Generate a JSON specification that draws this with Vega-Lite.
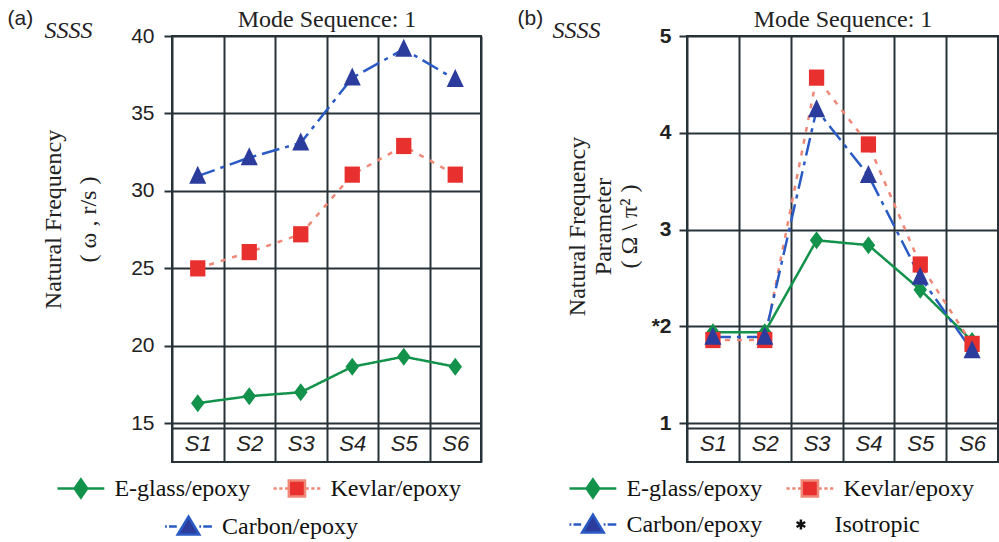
{
  "$schema": "https://vega.github.io/schema/vega-lite/v6.json",
  "padding": {"left": 6, "top": 6, "right": 2, "bottom": 4},
  "background": "white",
  "config": {"view": {"stroke": "#263238", "strokeWidth": 2}},
  "datasets": {
    "a": [
      {"seq": "S1", "series": "E-glass/epoxy", "value": 16.3},
      {"seq": "S2", "series": "E-glass/epoxy", "value": 16.75},
      {"seq": "S3", "series": "E-glass/epoxy", "value": 17.0},
      {"seq": "S4", "series": "E-glass/epoxy", "value": 18.65},
      {"seq": "S5", "series": "E-glass/epoxy", "value": 19.3},
      {"seq": "S6", "series": "E-glass/epoxy", "value": 18.65},
      {"seq": "S1", "series": "Kevlar/epoxy", "value": 25.0},
      {"seq": "S2", "series": "Kevlar/epoxy", "value": 26.05},
      {"seq": "S3", "series": "Kevlar/epoxy", "value": 27.2},
      {"seq": "S4", "series": "Kevlar/epoxy", "value": 31.05},
      {"seq": "S5", "series": "Kevlar/epoxy", "value": 32.9},
      {"seq": "S6", "series": "Kevlar/epoxy", "value": 31.05},
      {"seq": "S1", "series": "Carbon/epoxy", "value": 30.95},
      {"seq": "S2", "series": "Carbon/epoxy", "value": 32.15},
      {"seq": "S3", "series": "Carbon/epoxy", "value": 33.1},
      {"seq": "S4", "series": "Carbon/epoxy", "value": 37.3},
      {"seq": "S5", "series": "Carbon/epoxy", "value": 39.15},
      {"seq": "S6", "series": "Carbon/epoxy", "value": 37.2}
    ],
    "b": [
      {"seq": "S1", "series": "E-glass/epoxy", "value": 1.94},
      {"seq": "S2", "series": "E-glass/epoxy", "value": 1.94},
      {"seq": "S3", "series": "E-glass/epoxy", "value": 2.89},
      {"seq": "S4", "series": "E-glass/epoxy", "value": 2.84},
      {"seq": "S5", "series": "E-glass/epoxy", "value": 2.38},
      {"seq": "S6", "series": "E-glass/epoxy", "value": 1.85},
      {"seq": "S1", "series": "Kevlar/epoxy", "value": 1.86},
      {"seq": "S2", "series": "Kevlar/epoxy", "value": 1.86},
      {"seq": "S3", "series": "Kevlar/epoxy", "value": 4.57},
      {"seq": "S4", "series": "Kevlar/epoxy", "value": 3.88},
      {"seq": "S5", "series": "Kevlar/epoxy", "value": 2.64},
      {"seq": "S6", "series": "Kevlar/epoxy", "value": 1.82},
      {"seq": "S1", "series": "Carbon/epoxy", "value": 1.89},
      {"seq": "S2", "series": "Carbon/epoxy", "value": 1.89},
      {"seq": "S3", "series": "Carbon/epoxy", "value": 4.24},
      {"seq": "S4", "series": "Carbon/epoxy", "value": 3.56},
      {"seq": "S5", "series": "Carbon/epoxy", "value": 2.51},
      {"seq": "S6", "series": "Carbon/epoxy", "value": 1.75}
    ]
  },
  "hconcat": [
    {
      "width": 309,
      "height": 426,
      "data": {"name": "a"},
      "resolve": {"axis": {"x": "independent", "y": "independent"}, "scale": {"fill": "independent", "shape": "independent", "stroke": "independent"}},
      "layer": [
        {
          "mark": {"type": "line", "strokeWidth": 2.5},
          "encoding": {
            "x": {"field": "seq", "type": "nominal", "scale": {"type": "band", "domain": ["S1", "S2", "S3", "S4", "S5", "S6"], "paddingInner": 0, "paddingOuter": 0},
              "axis": {"orient": "bottom", "tickBand": "extent", "grid": true, "gridColor": "#263238", "gridWidth": 2, "gridOpacity": 1, "domain": false, "ticks": false, "tickSize": 0, "labelPadding": -19, "labelBaseline": "middle", "labelAngle": 0, "labelFont": "Liberation Sans", "labelFontStyle": "italic", "labelFontSize": 22, "labelColor": "#222", "title": "Mode Sequence: 1", "titleFont": "Liberation Serif", "titleFontSize": 24, "titleFontWeight": "normal", "titleColor": "#222", "titleX": 154.5, "titleY": -436, "titleAlign": "center", "titleBaseline": "alphabetic", "titleLimit": 1000}},
            "y": {"field": "value", "type": "quantitative", "scale": {"domain": [12.5, 40], "nice": false, "zero": false},
              "axis": {"orient": "left", "values": [15, 20, 25, 30, 35, 40], "grid": true, "gridColor": "#263238", "gridWidth": 2, "gridOpacity": 1, "domain": false, "ticks": true, "tickSize": 8, "tickColor": "#263238", "tickWidth": 2, "labelFont": "Liberation Sans", "labelFontSize": 21, "labelColor": "#222", "labelPadding": 10, "title": ["Natural Frequency", "( ω , r/s )"], "titleFont": "Liberation Serif", "titleFontSize": 24, "titleFontWeight": "normal", "titleColor": "#222", "titleLineHeight": 35, "titlePadding": 30, "titleY": 183, "titleLimit": 1000}},
            "color": {"field": "series", "type": "nominal", "scale": {"domain": ["E-glass/epoxy", "Kevlar/epoxy", "Carbon/epoxy"], "range": ["#12924a", "#f08878", "#2a5bc4"]}, "legend": null},
            "strokeDash": {"field": "series", "type": "nominal", "scale": {"domain": ["E-glass/epoxy", "Kevlar/epoxy", "Carbon/epoxy"], "range": [[1, 0], [5, 7], [18, 6, 4, 6]]}, "legend": null}
          }
        },
        {
          "mark": {"type": "point", "filled": true, "size": 324, "opacity": 1, "strokeWidth": 0},
          "encoding": {
            "x": {"field": "seq", "type": "nominal",
              "axis": {"orient": "top", "grid": false, "labels": false, "ticks": false, "domain": false, "title": "(a)", "titleFont": "Liberation Sans", "titleFontSize": 21, "titleFontWeight": "normal", "titleColor": "#222", "titleX": -165, "titleY": -12, "titleAlign": "left", "titleBaseline": "alphabetic", "titleAngle": 0}},
            "y": {"field": "value", "type": "quantitative",
              "axis": {"orient": "right", "values": [14.7], "grid": true, "gridColor": "#263238", "gridWidth": 2, "gridOpacity": 1, "labels": false, "ticks": false, "domain": false, "title": "SSSS", "titleFont": "Liberation Serif", "titleFontStyle": "italic", "titleFontSize": 24, "titleFontWeight": "normal", "titleColor": "#222", "titleX": -437, "titleY": 1, "titleAlign": "left", "titleBaseline": "alphabetic", "titleAngle": 0}},
            "fill": {"field": "series", "type": "nominal", "scale": {"domain": ["E-glass/epoxy", "Kevlar/epoxy", "Carbon/epoxy"], "range": ["#12924a", "#e8312f", "#2b3c9c"]}, "legend": null},
            "shape": {"field": "series", "type": "nominal", "scale": {"domain": ["E-glass/epoxy", "Kevlar/epoxy", "Carbon/epoxy"], "range": ["M0,-1L0.75,0L0,1L-0.75,0Z", "M-0.85,-0.9H0.85V0.9H-0.85Z", "M0,-1.15L0.95,0.85H-0.95Z"]}, "legend": null}
          }
        },
        {
          "transform": [{"filter": "datum.series !== 'Carbon/epoxy'"}],
          "mark": {"type": "point", "filled": true, "size": 1296, "opacity": 0, "strokeWidth": 2.5},
          "encoding": {
            "x": {"field": "seq", "type": "nominal", "axis": null},
            "y": {"field": "value", "type": "quantitative", "axis": null},
            "fill": {"field": "series", "type": "nominal", "scale": {"domain": ["E-glass/epoxy", "Kevlar/epoxy"], "range": ["#12924a", "#e8312f"]},
              "legend": {"title": null, "orient": "none", "legendX": -110.6, "legendY": 433, "direction": "horizontal", "columns": 2, "gridAlign": "none", "columnPadding": 18, "rowPadding": 2, "padding": 0, "symbolSize": 1296, "symbolStrokeWidth": 2.5, "symbolOpacity": 1, "symbolFillColor": "#000000", "symbolStrokeColor": "#000000", "labelOffset": 14, "labelFont": "Liberation Serif", "labelFontSize": 24, "labelColor": "#111", "labelLimit": 300}},
            "stroke": {"field": "series", "type": "nominal", "scale": {"domain": ["E-glass/epoxy", "Kevlar/epoxy"], "range": ["#12924a", "#f08878"]},
              "legend": {"title": null, "orient": "none", "legendX": -110.6, "legendY": 433, "direction": "horizontal", "columns": 2, "gridAlign": "none", "columnPadding": 18, "rowPadding": 2, "padding": 0, "symbolSize": 1296, "symbolStrokeWidth": 2.5, "symbolOpacity": 1, "symbolFillColor": "#000000", "symbolStrokeColor": "#000000", "labelOffset": 14, "labelFont": "Liberation Serif", "labelFontSize": 24, "labelColor": "#111", "labelLimit": 300}},
            "shape": {"field": "series", "type": "nominal", "scale": {"domain": ["E-glass/epoxy", "Kevlar/epoxy"], "range": ["M-1.3,0H1.3M0,-0.5L0.35,0L0,0.5L-0.35,0Z", "M-1.3,0H-1.12M-0.98,0H-0.8M-0.66,0H-0.48M0.48,0H0.66M0.8,0H0.98M1.12,0H1.3M-0.45,-0.45H0.45V0.45H-0.45Z"]},
              "legend": {"title": null, "orient": "none", "legendX": -110.6, "legendY": 433, "direction": "horizontal", "columns": 2, "gridAlign": "none", "columnPadding": 18, "rowPadding": 2, "padding": 0, "symbolSize": 1296, "symbolStrokeWidth": 2.5, "symbolOpacity": 1, "symbolFillColor": "#000000", "symbolStrokeColor": "#000000", "labelOffset": 14, "labelFont": "Liberation Serif", "labelFontSize": 24, "labelColor": "#111", "labelLimit": 300}}
          }
        },
        {
          "transform": [{"filter": "datum.series === 'Carbon/epoxy'"}],
          "mark": {"type": "point", "filled": true, "size": 1296, "opacity": 0, "strokeWidth": 2.5},
          "encoding": {
            "x": {"field": "seq", "type": "nominal", "axis": null},
            "y": {"field": "value", "type": "quantitative", "axis": null},
            "fill": {"field": "series", "type": "nominal", "scale": {"domain": ["Carbon/epoxy"], "range": ["#2b3c9c"]},
              "legend": {"title": null, "orient": "none", "legendX": -3, "legendY": 471, "padding": 0, "symbolSize": 1296, "symbolStrokeWidth": 2.5, "symbolOpacity": 1, "symbolFillColor": "#000000", "symbolStrokeColor": "#000000", "labelOffset": 14, "labelFont": "Liberation Serif", "labelFontSize": 24, "labelColor": "#111", "labelLimit": 300}},
            "stroke": {"field": "series", "type": "nominal", "scale": {"domain": ["Carbon/epoxy"], "range": ["#2a5bc4"]},
              "legend": {"title": null, "orient": "none", "legendX": -3, "legendY": 471, "padding": 0, "symbolSize": 1296, "symbolStrokeWidth": 2.5, "symbolOpacity": 1, "symbolFillColor": "#000000", "symbolStrokeColor": "#000000", "labelOffset": 14, "labelFont": "Liberation Serif", "labelFontSize": 24, "labelColor": "#111", "labelLimit": 300}},
            "shape": {"field": "series", "type": "nominal", "scale": {"domain": ["Carbon/epoxy"], "range": ["M-1.3,0H-1.2M-1.08,0H-0.65M0.6,0H0.7M0.82,0H1.3M0,-0.55L0.6,0.45H-0.6Z"]},
              "legend": {"title": null, "orient": "none", "legendX": -3, "legendY": 471, "padding": 0, "symbolSize": 1296, "symbolStrokeWidth": 2.5, "symbolOpacity": 1, "symbolFillColor": "#000000", "symbolStrokeColor": "#000000", "labelOffset": 14, "labelFont": "Liberation Serif", "labelFontSize": 24, "labelColor": "#111", "labelLimit": 300}}
          }
        }
      ]
    },
    {
      "width": 311,
      "height": 426,
      "data": {"name": "b"},
      "resolve": {"axis": {"x": "independent", "y": "independent"}, "scale": {"fill": "independent", "shape": "independent", "stroke": "independent"}},
      "layer": [
        {
          "mark": {"type": "line", "strokeWidth": 2.5},
          "encoding": {
            "x": {"field": "seq", "type": "nominal", "scale": {"type": "band", "domain": ["S1", "S2", "S3", "S4", "S5", "S6"], "paddingInner": 0, "paddingOuter": 0},
              "axis": {"orient": "bottom", "tickBand": "extent", "grid": true, "gridColor": "#263238", "gridWidth": 2, "gridOpacity": 1, "domain": false, "ticks": false, "tickSize": 0, "labelPadding": -19, "labelBaseline": "middle", "labelAngle": 0, "labelFont": "Liberation Sans", "labelFontStyle": "italic", "labelFontSize": 22, "labelColor": "#222", "title": "Mode Sequence: 1", "titleFont": "Liberation Serif", "titleFontSize": 24, "titleFontWeight": "normal", "titleColor": "#222", "titleX": 155.5, "titleY": -436, "titleAlign": "center", "titleBaseline": "alphabetic", "titleLimit": 1000}},
            "y": {"field": "value", "type": "quantitative", "scale": {"domain": [0.6, 5], "nice": false, "zero": false},
              "axis": {"orient": "left", "values": [1, 2, 3, 4, 5], "labelExpr": "datum.value === 2 ? '*2' : datum.label", "grid": true, "gridColor": "#263238", "gridWidth": 2, "gridOpacity": 1, "domain": false, "ticks": true, "tickSize": 8, "tickColor": "#263238", "tickWidth": 2, "labelFont": "Liberation Sans", "labelFontSize": 21, "labelFontWeight": "bold", "labelColor": "#222", "labelPadding": 8, "title": ["Natural Frequency", "Parameter", "( Ω \\ π² )"], "titleFont": "Liberation Serif", "titleFontSize": 24, "titleFontWeight": "normal", "titleColor": "#222", "titleLineHeight": 26, "titlePadding": 10, "titleY": 190, "titleLimit": 1000}},
            "color": {"field": "series", "type": "nominal", "scale": {"domain": ["E-glass/epoxy", "Kevlar/epoxy", "Carbon/epoxy"], "range": ["#12924a", "#f08878", "#2a5bc4"]}, "legend": null},
            "strokeDash": {"field": "series", "type": "nominal", "scale": {"domain": ["E-glass/epoxy", "Kevlar/epoxy", "Carbon/epoxy"], "range": [[1, 0], [5, 7], [18, 6, 4, 6]]}, "legend": null}
          }
        },
        {
          "mark": {"type": "point", "filled": true, "size": 324, "opacity": 1, "strokeWidth": 0},
          "encoding": {
            "x": {"field": "seq", "type": "nominal",
              "axis": {"orient": "top", "grid": false, "labels": false, "ticks": false, "domain": false, "title": "(b)", "titleFont": "Liberation Sans", "titleFontSize": 21, "titleFontWeight": "normal", "titleColor": "#222", "titleX": -170, "titleY": -12, "titleAlign": "left", "titleBaseline": "alphabetic", "titleAngle": 0}},
            "y": {"field": "value", "type": "quantitative",
              "axis": {"orient": "right", "values": [0.95], "grid": true, "gridColor": "#263238", "gridWidth": 2, "gridOpacity": 1, "labels": false, "ticks": false, "domain": false, "title": "SSSS", "titleFont": "Liberation Serif", "titleFontStyle": "italic", "titleFontSize": 24, "titleFontWeight": "normal", "titleColor": "#222", "titleX": -446, "titleY": 1, "titleAlign": "left", "titleBaseline": "alphabetic", "titleAngle": 0}},
            "fill": {"field": "series", "type": "nominal", "scale": {"domain": ["E-glass/epoxy", "Kevlar/epoxy", "Carbon/epoxy"], "range": ["#12924a", "#e8312f", "#2b3c9c"]}, "legend": null},
            "shape": {"field": "series", "type": "nominal", "scale": {"domain": ["E-glass/epoxy", "Kevlar/epoxy", "Carbon/epoxy"], "range": ["M0,-1L0.75,0L0,1L-0.75,0Z", "M-0.85,-0.9H0.85V0.9H-0.85Z", "M0,-1.15L0.95,0.85H-0.95Z"]}, "legend": null}
          }
        },
        {
          "mark": {"type": "point", "filled": true, "size": 1296, "opacity": 0, "strokeWidth": 2.5},
          "encoding": {
            "x": {"field": "seq", "type": "nominal", "axis": null},
            "y": {"field": "value", "type": "quantitative", "axis": null},
            "fill": {"field": "series", "type": "nominal", "scale": {"domain": ["E-glass/epoxy", "Kevlar/epoxy", "Carbon/epoxy", "Isotropic"], "range": ["#12924a", "#e8312f", "#2b3c9c", "transparent"]},
              "legend": {"title": null, "orient": "none", "legendX": -113.6, "legendY": 433, "direction": "horizontal", "columns": 2, "gridAlign": "none", "columnPadding": 19, "rowPadding": 2, "padding": 0, "symbolSize": 1296, "symbolStrokeWidth": 2.5, "symbolOpacity": 1, "symbolFillColor": "#000000", "symbolStrokeColor": "#000000", "labelOffset": 14, "labelFont": "Liberation Serif", "labelFontSize": 24, "labelColor": "#111", "labelLimit": 300}},
            "stroke": {"field": "series", "type": "nominal", "scale": {"domain": ["E-glass/epoxy", "Kevlar/epoxy", "Carbon/epoxy", "Isotropic"], "range": ["#12924a", "#f08878", "#2a5bc4", "#111111"]},
              "legend": {"title": null, "orient": "none", "legendX": -113.6, "legendY": 433, "direction": "horizontal", "columns": 2, "gridAlign": "none", "columnPadding": 19, "rowPadding": 2, "padding": 0, "symbolSize": 1296, "symbolStrokeWidth": 2.5, "symbolOpacity": 1, "symbolFillColor": "#000000", "symbolStrokeColor": "#000000", "labelOffset": 14, "labelFont": "Liberation Serif", "labelFontSize": 24, "labelColor": "#111", "labelLimit": 300}},
            "shape": {"field": "series", "type": "nominal", "scale": {"domain": ["E-glass/epoxy", "Kevlar/epoxy", "Carbon/epoxy", "Isotropic"], "range": ["M-1.3,0H1.3M0,-0.5L0.35,0L0,0.5L-0.35,0Z", "M-1.3,0H-1.12M-0.98,0H-0.8M-0.66,0H-0.48M0.48,0H0.66M0.8,0H0.98M1.12,0H1.3M-0.45,-0.45H0.45V0.45H-0.45Z", "M-1.3,0H-1.2M-1.08,0H-0.65M0.6,0H0.7M0.82,0H1.3M0,-0.55L0.6,0.45H-0.6Z", "M0,-0.28V0.28M-0.24,-0.14L0.24,0.14M-0.24,0.14L0.24,-0.14"]},
              "legend": {"title": null, "orient": "none", "legendX": -113.6, "legendY": 433, "direction": "horizontal", "columns": 2, "gridAlign": "none", "columnPadding": 19, "rowPadding": 2, "padding": 0, "symbolSize": 1296, "symbolStrokeWidth": 2.5, "symbolOpacity": 1, "symbolFillColor": "#000000", "symbolStrokeColor": "#000000", "labelOffset": 14, "labelFont": "Liberation Serif", "labelFontSize": 24, "labelColor": "#111", "labelLimit": 300}}
          }
        }
      ]
    }
  ],
  "spacing": 34,
  "resolve": {
    "scale": {"x": "independent", "y": "independent", "color": "independent", "fill": "independent", "shape": "independent", "stroke": "independent", "strokeDash": "independent"},
    "legend": {"color": "independent", "fill": "independent", "shape": "independent", "stroke": "independent", "strokeDash": "independent"}
  }
}
